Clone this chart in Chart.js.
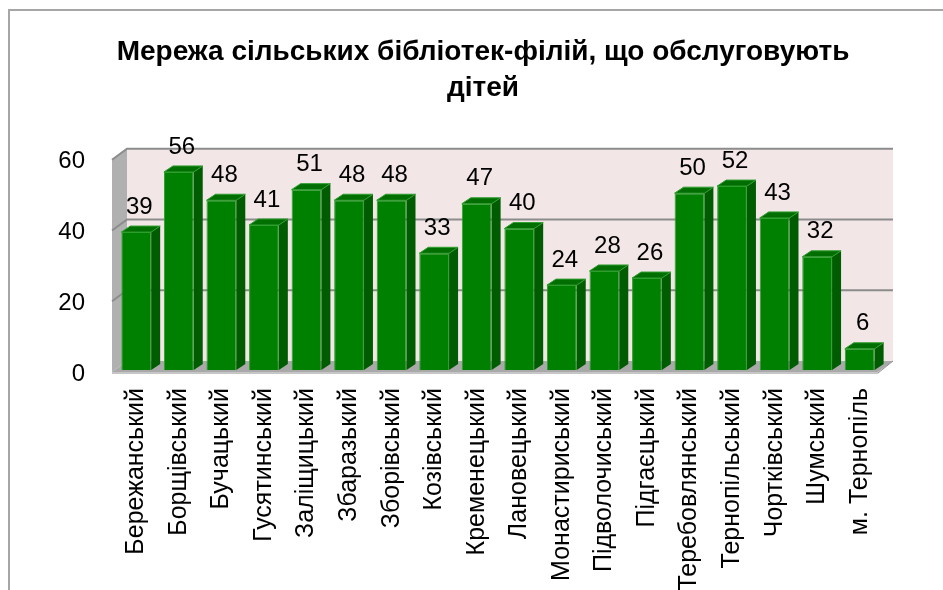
<!DOCTYPE html>
<html>
<head>
<meta charset="utf-8">
<script src="https://cdn.jsdelivr.net/npm/chart.js@4.4.0/dist/chart.umd.min.js"></script>
<style>
  body { margin: 0; background: #fff; }
  #wrap { width: 943px; height: 590px; }
</style>
</head>
<body>
<div id="wrap"><canvas id="libChart" width="943" height="590"></canvas></div>
<script>
// райони області
var districts = ['Бережанський', 'Борщівський', 'Бучацький', 'Гусятинський', 'Заліщицький',
    'Збаразький', 'Зборівський', 'Козівський', 'Кременецький', 'Лановецький', 'Монастириський',
    'Підволочиський', 'Підгаєцький', 'Теребовлянський', 'Тернопільський', 'Чортківський',
    'Шумський', 'м. Тернопіль'];
// кількість бібліотек-філій
var branches = [39, 56, 48, 41, 51, 48, 48, 33, 47, 40, 24, 28, 26, 50, 52, 43, 32, 6];
var yTicks = [0, 20, 40, 60];
var titleLines = ['Мережа сільських бібліотек-філій, що обслуговують', 'дітей'];

var labelFont = "'Liberation Sans', Arial, sans-serif";
var depthX = 9, depthY = 6;     // глибина стовпчика
var wallX = 12, wallY = 9;      // зсув задньої стінки

// рамка, стінки, підлога та лінії сітки
var boxPlugin = {
    id: 'box3d',
    beforeDraw: function (chart) {
        var c = chart.ctx;
        c.save();
        c.fillStyle = '#fff';
        c.fillRect(0, 0, chart.width, chart.height);
        c.strokeStyle = '#a6a6a6';
        c.lineWidth = 2;
        c.beginPath();
        c.moveTo(9, chart.height);
        c.lineTo(9, 10);
        c.lineTo(chart.width, 10);
        c.stroke();
        c.restore();
    },
    beforeDatasetsDraw: function (chart) {
        var c = chart.ctx, a = chart.chartArea, y = chart.scales.y;
        var top = y.getPixelForValue(y.max), base = y.getPixelForValue(0);
        c.save();
        // задня стінка
        c.fillStyle = '#f2e6e6';
        c.fillRect(a.left + wallX, top - wallY, a.right - a.left, base - top);
        // бокова стінка
        c.fillStyle = '#b0b0b0';
        c.beginPath();
        c.moveTo(a.left - 3, top + 2);
        c.lineTo(a.left + wallX, top - wallY);
        c.lineTo(a.left + wallX, base - wallY);
        c.lineTo(a.left - 3, base + 2);
        c.closePath();
        c.fill();
        // підлога
        c.fillStyle = '#a9a9a9';
        c.beginPath();
        c.moveTo(a.left - 3, base + 2);
        c.lineTo(a.right - 3, base + 2);
        c.lineTo(a.right + wallX, base - wallY);
        c.lineTo(a.left + wallX, base - wallY);
        c.closePath();
        c.fill();
        c.strokeStyle = '#8c8c8c';
        c.lineWidth = 1;
        c.beginPath();
        c.moveTo(a.left - 3, base + 3);
        c.lineTo(a.right - 3, base + 3);
        c.lineTo(a.right + wallX, base - wallY);
        c.stroke();
        // лінії сітки
        c.strokeStyle = '#8c8c8c';
        c.lineWidth = 2;
        yTicks.forEach(function (v) {
            if (v === 0) return;
            var py = y.getPixelForValue(v);
            c.beginPath();
            c.moveTo(a.left - 3, py + 2);
            c.lineTo(a.left + wallX, py - wallY);
            c.lineTo(a.right + wallX, py - wallY);
            c.stroke();
        });
        c.restore();
    },
    afterDatasetsDraw: function (chart) {
        var c = chart.ctx;
        var meta = chart.getDatasetMeta(0);
        c.save();
        meta.data.forEach(function (bar, i) {
            var w = bar.width, l = bar.x - w / 2, r = bar.x + w / 2;
            var t = bar.y, b = bar.base;
            // бокова грань
            c.fillStyle = '#005c00';
            c.beginPath();
            c.moveTo(r, t);
            c.lineTo(r + depthX, t - depthY);
            c.lineTo(r + depthX, b - depthY);
            c.lineTo(r, b);
            c.closePath();
            c.fill();
            // верхня грань
            c.fillStyle = '#006e00';
            c.beginPath();
            c.moveTo(l, t);
            c.lineTo(r, t);
            c.lineTo(r + depthX, t - depthY);
            c.lineTo(l + depthX, t - depthY);
            c.closePath();
            c.fill();
            c.strokeStyle = '#2f9e2f';
            c.lineWidth = 1;
            c.stroke();
            // підписи значень
            c.fillStyle = '#000';
            c.font = '24px ' + labelFont;
            c.textAlign = 'center';
            c.textBaseline = 'middle';
            c.fillText(String(branches[i]), bar.x + 3, t - 25);
        });
        c.restore();
    }
};

new Chart(document.getElementById('libChart'), {
    type: 'bar',
    data: {
        labels: districts,
        datasets: [{
            data: branches,
            backgroundColor: '#008000',
            borderColor: '#2f9e2f',
            borderWidth: 1,
            barPercentage: 0.7,
            categoryPercentage: 1
        }]
    },
    options: {
        responsive: false,
        animation: false,
        layout: { padding: { top: 10, right: 0, left: 23, bottom: 0 } },
        plugins: {
            legend: { display: false },
            tooltip: { enabled: false },
            title: {
                display: true,
                text: titleLines,
                color: '#000',
                font: { family: "'Liberation Sans', Arial, sans-serif", size: 28, weight: 'bold', lineHeight: 1.3 },
                padding: { top: 24, bottom: 51 }
            }
        },
        scales: {
            x: {
                grid: { display: false, drawTicks: false },
                border: { display: false },
                ticks: {
                    color: '#000',
                    font: { family: labelFont, size: 25 },
                    maxRotation: 90,
                    minRotation: 90,
                    autoSkip: false,
                    padding: 18
                },
                afterFit: function (scale) { scale.height = 220; }
            },
            y: {
                min: 0,
                max: 60,
                grid: { display: false, drawTicks: false },
                border: { display: false },
                ticks: {
                    stepSize: 20,
                    color: '#000',
                    font: { family: labelFont, size: 24 },
                    padding: 30,
                    labelOffset: 4
                },
                afterFit: function (scale) { scale.width = 92; }
            },
            // порожня вісь праворуч, лише щоб залишити місце
            yRight: {
                position: 'right',
                min: 0,
                max: 60,
                grid: { display: false, drawTicks: false },
                border: { display: false },
                ticks: { display: false },
                afterFit: function (scale) { scale.width = 62; }
            }
        }
    },
    plugins: [boxPlugin]
});
</script>
</body>
</html>
